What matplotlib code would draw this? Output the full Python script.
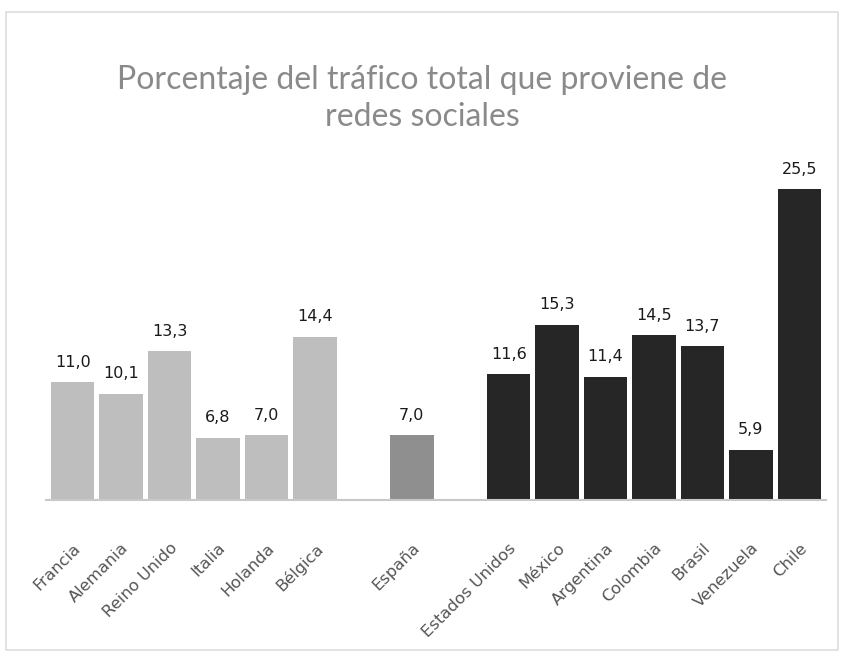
import matplotlib.pyplot as plt
from matplotlib.patches import Rectangle

# Data
paises = ["Francia", "Alemania", "Reino Unido", "Italia", "Holanda", "Bélgica",
          "España",
          "Estados Unidos", "México", "Argentina", "Colombia", "Brasil", "Venezuela", "Chile"]
valores = [11.0, 10.1, 13.3, 6.8, 7.0, 14.4,
           7.0,
           11.6, 15.3, 11.4, 14.5, 13.7, 5.9, 25.5]
grupos = ["europa"] * 6 + ["espana"] + ["america"] * 7
posiciones = [0, 1, 2, 3, 4, 5, 7, 9, 10, 11, 12, 13, 14, 15]

colores = {"europa": "#bebebe", "espana": "#8f8f8f", "america": "#262626"}

plt.rcParams['font.family'] = ['Lato', 'DejaVu Sans']

fig = plt.figure(figsize=(8.44, 6.55), dpi=100)
fig.patches.append(Rectangle((0.007, 0.008), 0.986, 0.973, transform=fig.transFigure,
                             fill=False, edgecolor="#dddddd", linewidth=1.2))
ax = fig.add_axes([46 / 844, 155 / 655, 780 / 844, 345 / 655])

ax.bar(posiciones, valores, width=0.9,
       color=[colores[g] for g in grupos], zorder=2)

for x, v in zip(posiciones, valores):
    ax.annotate(f"{v:.1f}".replace(".", ","), (x, v), xytext=(0, 9),
                textcoords="offset points", ha="center", va="bottom",
                fontsize=11.5, color="#1a1a1a", family=['DejaVu Sans'])

# the value axis does not start at zero in the original
ax.set_xlim(-0.55, 15.55)
ax.set_ylim(2.13, 28.07)
ax.set_xticks(posiciones)
ax.set_xticklabels(paises, rotation=45, ha="right", rotation_mode="anchor",
                   fontsize=11.8, color="#555555", family=['DejaVu Sans'])
ax.tick_params(axis="x", length=0, pad=29)
ax.set_yticks([])
for s in ["top", "right", "left"]:
    ax.spines[s].set_visible(False)
ax.spines["bottom"].set_color("#c8c8c8")
ax.spines["bottom"].set_linewidth(1.5)

fig.text(0.5, 0.85, "Porcentaje del tráfico total que proviene de\nredes sociales",
         ha="center", va="center", fontsize=23, color="#8a8a8a", linespacing=1.3)

fig.savefig("out.png", dpi=100)
